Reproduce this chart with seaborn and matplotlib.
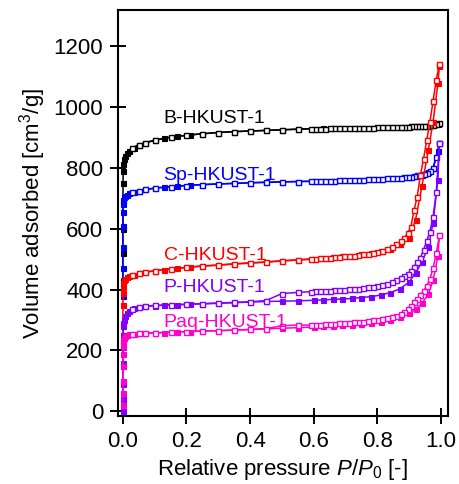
import matplotlib
matplotlib.use('Agg')
import matplotlib.pyplot as plt
import seaborn as sns

# relative pressure grids (adsorption ascending, desorption descending)
P_ADS = [1e-5, 5e-5, 1e-4, 3e-4, 6e-4, 0.001, 0.002, 0.004, 0.007, 0.012, 0.02, 0.035, 0.05, 0.07,
         0.10, 0.13, 0.17, 0.21, 0.25, 0.30, 0.35, 0.40, 0.45, 0.50, 0.55, 0.60, 0.63, 0.66, 0.69,
         0.72, 0.75, 0.78, 0.81, 0.84, 0.87, 0.90, 0.92, 0.94, 0.96, 0.975, 0.99, 0.995]
P_DES = [0.995, 0.985, 0.975, 0.965, 0.955, 0.945, 0.935, 0.925, 0.915, 0.905, 0.895, 0.885, 0.875,
         0.86, 0.845, 0.83, 0.815, 0.80, 0.785, 0.77, 0.755, 0.74, 0.725, 0.71, 0.695, 0.68, 0.665,
         0.65, 0.635, 0.62, 0.605, 0.59, 0.55, 0.50, 0.45, 0.40, 0.35, 0.30, 0.25, 0.20, 0.15, 0.10,
         0.07, 0.05, 0.03]

B_ADS = [430, 520, 600, 690, 750, 790, 812, 828, 838, 848, 856, 866, 874, 882, 890, 897, 903, 908,
         912, 916, 919, 921, 923, 925, 927, 929, 930, 930, 931, 931, 932, 932, 933, 933, 934, 935,
         936, 937, 939, 941, 944, 946]
B_DES = [946, 943, 941, 940, 939, 938, 937, 937, 936, 936, 935, 935, 935, 934, 934, 933, 933, 933,
         932, 932, 932, 931, 931, 931, 930, 930, 930, 930, 929, 929, 929, 928, 927, 925, 923, 921,
         919, 916, 912, 907, 901, 891, 883, 876, 866]

SP_ADS = [380, 470, 540, 610, 655, 680, 695, 703, 708, 712, 716, 721, 725, 729, 733, 737, 740, 743,
          745, 747, 749, 751, 752, 754, 755, 756, 757, 758, 759, 760, 761, 762, 764, 765, 767, 770,
          773, 778, 786, 800, 855, 882]
SP_DES = [882, 835, 800, 790, 784, 780, 777, 775, 773, 771, 770, 769, 768, 767, 766, 765, 764, 763,
          762, 762, 761, 761, 760, 760, 759, 759, 758, 758, 757, 757, 756, 756, 755, 754, 753, 751,
          749, 747, 745, 742, 738, 733, 729, 725, 720]

C_ADS = [150, 230, 290, 350, 390, 410, 422, 430, 435, 440, 444, 449, 453, 457, 462, 466, 470, 474,
         477, 480, 484, 487, 490, 494, 497, 500, 503, 506, 509, 512, 516, 521, 527, 535, 550, 570,
         630, 740, 860, 950, 1078, 1135]
C_DES = [1140, 1090, 1020, 950, 890, 830, 775, 705, 660, 605, 585, 570, 560, 550, 540, 533, 528, 524,
         521, 518, 516, 514, 512, 510, 509, 508, 506, 505, 504, 503, 502, 501, 498, 495, 491, 488,
         485, 481, 478, 473, 468, 462, 457, 453, 448]

P_HK_ADS = [0, 40, 90, 160, 210, 250, 280, 300, 312, 322, 330, 338, 342, 345, 347, 349, 350, 352,
            353, 355, 357, 359, 361, 362, 363, 365, 366, 368, 369, 371, 374, 377, 382, 390, 402, 425,
            455, 490, 540, 620, 760, 880]
P_HK_DES = [880, 720, 640, 590, 560, 530, 505, 490, 475, 462, 452, 444, 438, 430, 424, 419, 415, 412,
            409, 407, 405, 403, 402, 401, 400, 399, 398, 397, 396, 395, 394, 393, 391, 387, 364, 360,
            358, 356, 354, 352, 350, 348, 346, 343, 337]

PAQ_ADS = [20, 60, 100, 150, 190, 215, 232, 242, 248, 251, 253, 255, 256, 257, 258, 259, 261, 262,
           264, 265, 267, 269, 271, 273, 275, 277, 279, 281, 283, 285, 288, 291, 295, 300, 310, 322,
           335, 355, 385, 430, 510, 578]
PAQ_DES = [578, 520, 470, 435, 412, 395, 382, 370, 358, 345, 335, 328, 320, 313, 309, 306, 303, 301,
           299, 297, 295, 293, 292, 291, 290, 289, 288, 287, 286, 285, 284, 283, 284, 281, 272, 269,
           267, 265, 264, 262, 260, 258, 257, 256, 255]

SAMPLES = ['B-HKUST-1', 'Sp-HKUST-1', 'C-HKUST-1', 'P-HKUST-1', 'Paq-HKUST-1']
LABEL_Y = [947, 759, 496, 391, 276]


def main() -> None:
    sns.set_style('ticks')
    plt.rcParams['font.family'] = ['Liberation Sans', 'DejaVu Sans']
    plt.rcParams['mathtext.fontset'] = 'custom'
    plt.rcParams['mathtext.rm'] = 'Liberation Sans'
    plt.rcParams['mathtext.it'] = 'Liberation Sans:italic'
    plt.rcParams['text.color'] = 'black'
    plt.rcParams['axes.labelcolor'] = 'black'

    colors = ['#000000', '#0000FF', '#FF0000', '#8000FF', '#FF00CC']
    ads = [B_ADS, SP_ADS, C_ADS, P_HK_ADS, PAQ_ADS]
    des = [B_DES, SP_DES, C_DES, P_HK_DES, PAQ_DES]

    fig, ax = plt.subplots(figsize=(4.6, 4.84), dpi=100)
    fig.subplots_adjust(left=0.256, right=0.974, bottom=0.14, top=0.979)

    for name, color, v_a, v_d, ly in zip(SAMPLES, colors, ads, des, LABEL_Y):
        sns.lineplot(x=P_ADS, y=v_a, ax=ax, color=color, marker='s', markersize=3.6,
                     markeredgecolor=color, markerfacecolor=color, markeredgewidth=0.8,
                     linewidth=1.1, sort=False, estimator=None)
        sns.lineplot(x=P_DES, y=v_d, ax=ax, color=color, marker='s', markersize=3.6,
                     markeredgecolor=color, markerfacecolor='white', markeredgewidth=1.0,
                     linewidth=1.1, sort=False, estimator=None)
        ax.text(0.128, ly, name, color=color, fontsize=14, ha='left', va='baseline')

    ax.set_xlim(-0.016, 1.022)
    ax.set_ylim(-16, 1318)
    ax.set_xticks([0.0, 0.2, 0.4, 0.6, 0.8, 1.0])
    ax.set_xticklabels(['0.0', '0.2', '0.4', '0.6', '0.8', '1.0'])
    ax.set_yticks(range(0, 1201, 200))
    ax.tick_params(direction='inout', length=11, width=1.4, labelsize=16, pad=5,
                   colors='black', labelcolor='black')
    for s in ax.spines.values():
        s.set_visible(True)
        s.set_linewidth(1.5)
        s.set_color('black')

    ax.set_xlabel('Relative pressure $P$/$P_0$ [-]', fontsize=16, labelpad=4)
    ax.set_ylabel('Volume adsorbed [cm$^3$/g]', fontsize=16, labelpad=4)

    plt.savefig('out.png', dpi=100)


if __name__ == '__main__':
    main()
